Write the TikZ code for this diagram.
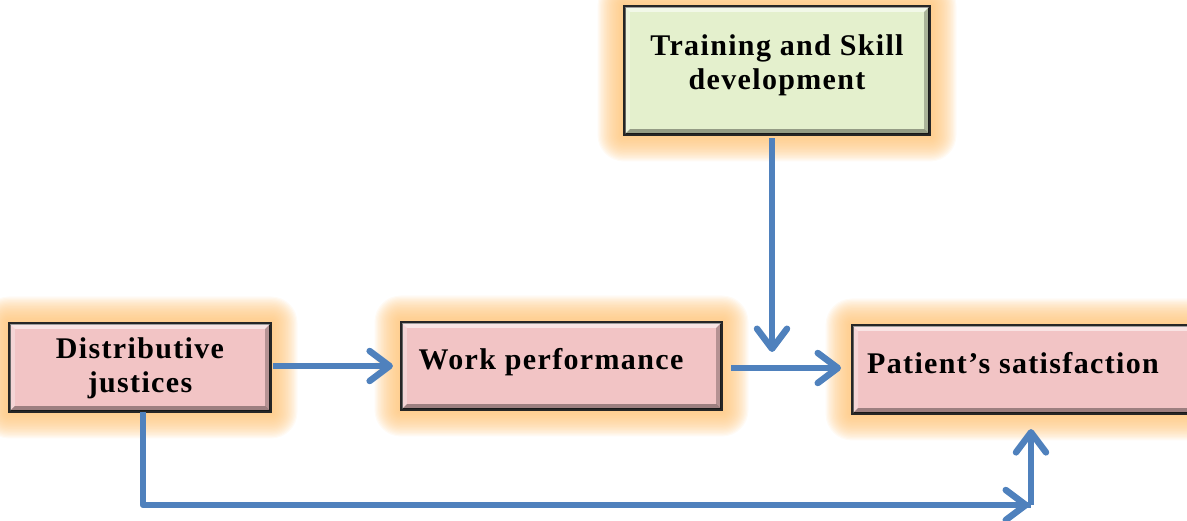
\documentclass[tikz,border=0pt]{standalone}
\usepackage{fontspec}
\setmainfont{Liberation Serif}[LetterSpace=4.5]
\usetikzlibrary{arrows.meta,calc,backgrounds}

\definecolor{boxpink}{RGB}{242,196,197}
\definecolor{boxgreen}{RGB}{228,240,205}
\definecolor{glowc}{RGB}{255,196,120}
\definecolor{flowblue}{RGB}{79,129,189}

\tikzset{
  stage/.style={draw=black!85, line width=2.2pt, inner sep=0pt},
  caption/.style={font=\bfseries\fontsize{30}{34}\selectfont, align=center, inner sep=0pt},
  flow/.style={draw=flowblue, line width=6.5pt, line join=round,
    -{Straight Barb[length=20pt,width=30pt,line cap=round,line join=round]}},
  flowline/.style={draw=flowblue, line width=6.5pt, line join=round}
}

% soft orange halo behind a box
\newcommand{\halo}[1]{%
  \foreach \i in {1,...,22}{%
    \fill[glowc, opacity=0.075, rounded corners=1.2*\i pt]
      ($(#1.south west)+(-1.2*\i,1.2*\i)$) rectangle
      ($(#1.north east)+(1.2*\i,-1.2*\i)$);}}

% raised bevel on a box
\newcommand{\bevel}[2]{%
  \fill[white, opacity=0.55] (#1.north west) -- (#1.north east)
    -- ($(#1.north east)+(-#2,#2)$) -- ($(#1.north west)+(#2,#2)$) -- cycle;
  \fill[white, opacity=0.3] (#1.north west) -- ($(#1.north west)+(#2,#2)$)
    -- ($(#1.south west)+(#2,-#2)$) -- (#1.south west) -- cycle;
  \fill[black, opacity=0.35] (#1.south west) -- (#1.south east)
    -- ($(#1.south east)+(-#2,-#2)$) -- ($(#1.south west)+(#2,-#2)$) -- cycle;
  \fill[black, opacity=0.25] (#1.north east) -- ($(#1.north east)+(-#2,#2)$)
    -- ($(#1.south east)+(-#2,-#2)$) -- (#1.south east) -- cycle;
  \draw[black!85, line width=2.2pt] (#1.north west) rectangle (#1.south east);}

\begin{document}
\begin{tikzpicture}[x=1pt,y=-1pt]
\useasboundingbox (0,0) rectangle (1187,521);
\clip (0,0) rectangle (1187,521);

% boxes
\node[stage, minimum width=260pt, minimum height=87pt, fill=boxpink] (dj) at (140,367.5) {};
\node[stage, minimum width=319pt, minimum height=86pt, fill=boxpink] (wp) at (561.5,366) {};
\node[stage, minimum width=345pt, minimum height=87pt, fill=boxpink, anchor=west] (ps) at (852,369.5) {};
\node[stage, minimum width=304pt, minimum height=127pt, fill=boxgreen] (ts) at (777,70.5) {};

\begin{scope}[on background layer]
  \halo{dj}\halo{wp}\halo{ps}\halo{ts}
\end{scope}

\bevel{dj}{6}\bevel{wp}{6}\bevel{ps}{6}\bevel{ts}{6}

% box texts
\node[caption] (djt) at (140,368) {Distributive\\justices};
\node[caption, anchor=base] (wpt) at (551,370) {Work performance};
\node[caption, anchor=base west] (pst) at (867,374) {Patient’s satisfaction};
\node[caption] (tst) at (777,65) {Training and Skill\\development};

% connectors
\coordinate (meet) at (1031,505);
\draw[flow] ([xshift=2pt]dj.east |- 0,366) -- ([xshift=-8pt]wp.west |- 0,366);
\draw[flow] ([xshift=9pt]wp.east |- 0,368) -- ([xshift=-11pt]ps.west |- 0,368);
\draw[flow] (ts.south -| 772,0) ++(0,3) -- (772,352);
\draw[flowline] (dj.south -| 143,0) -- (143,505) -- (meet);
\draw[flow] (143,505) -- (1029,505);
\draw[flow] (meet) -- ([yshift=-15pt]ps.south -| meet);
\end{tikzpicture}
\end{document}
